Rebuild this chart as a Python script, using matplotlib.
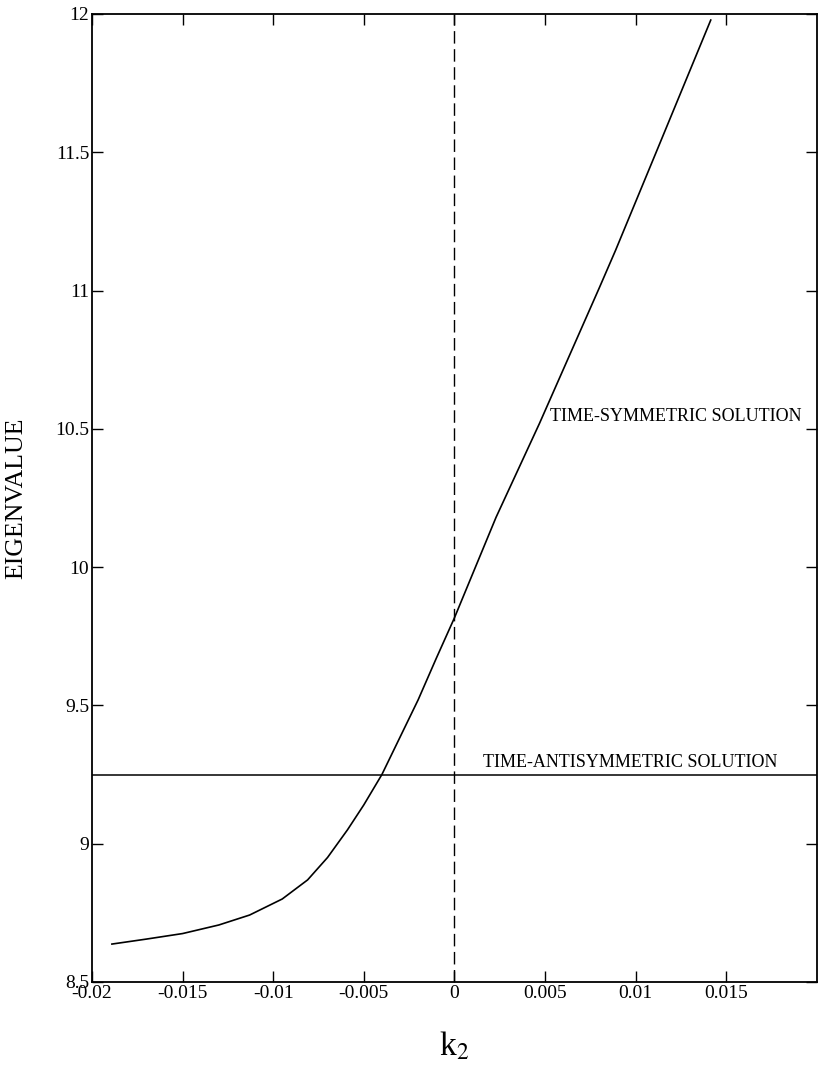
import matplotlib.pyplot as plt

plt.rcParams['font.family'] = ['Liberation Serif', 'DejaVu Serif']
plt.rcParams['mathtext.fontset'] = 'stix'
plt.rcParams['axes.unicode_minus'] = False

# time-symmetric branch
k2 = [-0.0189, -0.0170, -0.0150, -0.0130, -0.0113, -0.0095, -0.0081,
      -0.0070, -0.0059, -0.0050, -0.0040, -0.0030, -0.0020, -0.0010,
      0.0, 0.0023, 0.0047, 0.0080, 0.0089, 0.0112, 0.01415]
eig_sym = [8.637, 8.655, 8.675, 8.706, 8.742, 8.80, 8.869,
           8.95, 9.05, 9.14, 9.25, 9.385, 9.52, 9.67,
           9.816, 10.18, 10.52, 11.01, 11.146, 11.51, 11.978]

eig_anti = 9.25  # time-antisymmetric solution, flat

xticks = [-0.02, -0.015, -0.01, -0.005, 0, 0.005, 0.01, 0.015]
xticklabels = ["-0.02", "-0.015", "-0.01", "-0.005", "0", "0.005", "0.01", "0.015"]
yticks = [8.5, 9, 9.5, 10, 10.5, 11, 11.5, 12]
yticklabels = ["8.5", "9", "9.5", "10", "10.5", "11", "11.5", "12"]

fig = plt.figure(figsize=(8.25, 10.67), dpi=100)
ax = fig.add_axes([0.1115, 0.0797, 0.8785, 0.9072])

ax.plot(k2, eig_sym, color="black", lw=1.2)
ax.axhline(eig_anti, color="black", lw=1.1)
ax.axvline(0, color="black", lw=1.0, dashes=(9, 4))

ax.set_xlim(-0.02, 0.02)
ax.set_ylim(8.5, 12)
ax.set_xticks(xticks)
ax.set_xticklabels(xticklabels)
ax.set_yticks(yticks)
ax.set_yticklabels(yticklabels)
ax.tick_params(direction="in", top=True, right=True, length=8, width=1,
               labelsize=14, pad=2)
for s in ax.spines.values():
    s.set_linewidth(1.3)

ax.text(0.00527, 10.53, "TIME-SYMMETRIC SOLUTION", fontsize=13, va="baseline")
ax.text(0.00157, 9.277, "TIME-ANTISYMMETRIC SOLUTION", fontsize=13, va="baseline")

ax.set_ylabel("EIGENVALUE", fontsize=18.5, labelpad=20)
ax.set_xlabel("k$_2$", fontsize=24, labelpad=20)

plt.savefig("out.png", dpi=100)
